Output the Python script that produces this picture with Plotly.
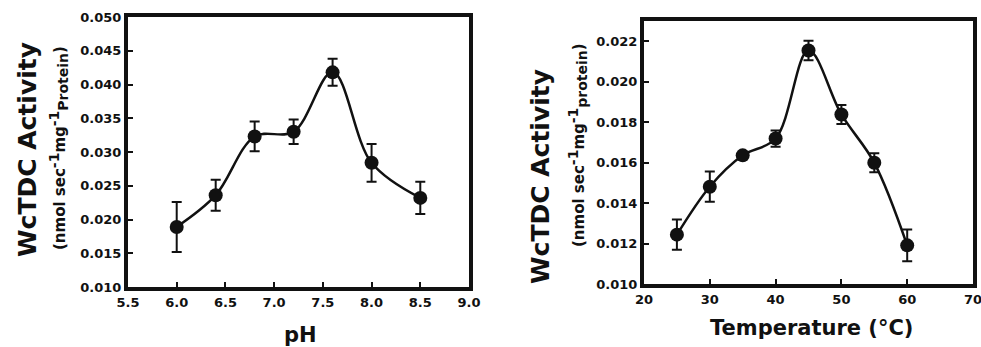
import plotly.graph_objects as go

# ---- data ----
ph = [6.0, 6.4, 6.8, 7.2, 7.6, 8.0, 8.5]
ph_activity = [0.0189, 0.0236, 0.0323, 0.0330, 0.0418, 0.0284, 0.0232]
ph_err = [0.0037, 0.0023, 0.0022, 0.0018, 0.0020, 0.0028, 0.0024]

temp = [25, 30, 35, 40, 45, 50, 55, 60]
temp_activity = [0.01244, 0.01481, 0.01636, 0.01719, 0.02154, 0.01838, 0.01599, 0.01191]
temp_err = [0.00075, 0.00075, 0.00012, 0.00040, 0.00048, 0.00047, 0.00047, 0.00079]

ph_ticks = [5.5, 6.0, 6.5, 7.0, 7.5, 8.0, 8.5, 9.0]
temp_ticks = [20, 30, 40, 50, 60, 70]

FONT = "DejaVu Sans"
INK = "#111111"

fig = go.Figure()

def add_series(x, y, e, xa, ya):
    fig.add_trace(go.Scatter(
        x=x, y=y, mode="lines", line=dict(shape="spline", smoothing=1.0, color=INK, width=2.5),
        xaxis=xa, yaxis=ya, hoverinfo="skip", showlegend=False))
    fig.add_trace(go.Scatter(
        x=x, y=y, mode="markers",
        marker=dict(size=14, color=INK),
        error_y=dict(type="data", array=e, visible=True, color=INK, thickness=2, width=5),
        xaxis=xa, yaxis=ya, showlegend=False))

add_series(ph, ph_activity, ph_err, "x", "y")
add_series(temp, temp_activity, temp_err, "x2", "y2")

axis_common = dict(
    showline=True, mirror=True, linewidth=4, linecolor=INK,
    ticks="inside", ticklen=5, tickwidth=2, tickcolor=INK,
    showgrid=False, zeroline=False, automargin=False, ticklabeloverflow="allow",
    tickfont=dict(family=FONT, size=13, color=INK, weight="bold"),
)

fig.update_layout(
    width=981, height=347,
    margin=dict(l=0, r=0, t=0, b=0, autoexpand=False),
    paper_bgcolor="white", plot_bgcolor="white",
    font=dict(family=FONT, color=INK),
    xaxis=dict(domain=[128/981, 469/981], range=[5.5, 9.0], tickvals=ph_ticks,
               tickformat=".1f", anchor="y", **axis_common),
    yaxis=dict(domain=[(347-287)/347, (347-17)/347], range=[0.010, 0.050], dtick=0.005,
               tickformat=".3f", anchor="x", **axis_common),
    xaxis2=dict(domain=[644/981, 973/981], range=[20, 70], tickvals=temp_ticks,
                tickformat="d", anchor="y2", **axis_common),
    yaxis2=dict(domain=[(347-284)/347, (347-21)/347], range=[0.010, 0.023], dtick=0.002,
                tickformat=".3f", anchor="x2", **axis_common),
)

ann = []
def txt(x, y, s, size, angle=0):
    ann.append(dict(x=x/981, y=1-y/347, xref="paper", yref="paper", text=s, showarrow=False,
                    textangle=angle, font=dict(family=FONT, size=size, color=INK, weight="bold"),
                    xanchor="center", yanchor="middle"))

def unit(word):
    s = '<span style="font-size:14px">'
    return ("(nmol sec<sup>" + s + "-1</span></sup>mg<sup>" + s + "-1</span></sup>"
            "<sub>" + s + word + "</span></sub>)")

txt(27, 150, "WcTDC Activity", 25, -90)
txt(59, 148, unit("Protein"), 15, -90)
txt(300, 335, "pH", 21)

txt(541, 177, "WcTDC Activity", 25, -90)
txt(577, 145, unit("protein"), 15, -90)
txt(811, 328, "Temperature (°C)", 21)

fig.update_layout(annotations=ann)
fig.write_html("out.html", config={"displayModeBar": False},
               post_script="document.body.style.margin='0';document.body.style.overflow='hidden';")
